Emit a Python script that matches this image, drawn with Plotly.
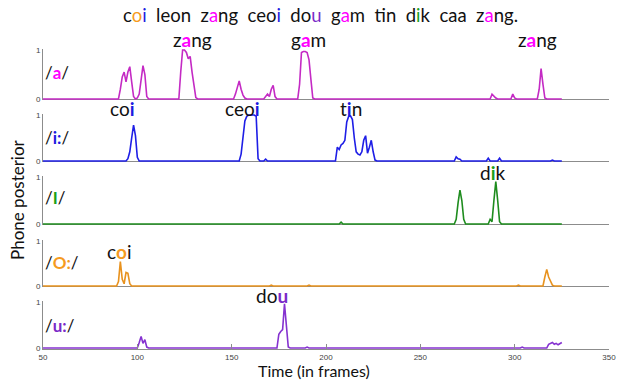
import plotly.graph_objects as go

# ---------------- data (frame, posterior) breakpoints ----------------
a_points = [(50, 0), (90, 0), (91, 0.2), (92, 0.45), (93, 0.55), (94, 0.35), (95, 0.55), (96, 0.66),
            (97, 0.35), (98, 0.05), (99, 0), (100, 0.02), (101, 0.1), (102, 0.35), (103, 0.68), (104, 0.5),
            (105, 0.05), (106, 0), (122, 0), (123, 0.55), (124, 1.0), (125, 1.0), (126, 0.95), (127, 0.82),
            (128, 0.87), (129, 0.55), (130, 0.25), (131, 0.03), (132, 0), (151, 0), (152, 0.1), (153, 0.25),
            (154, 0.37), (155, 0.2), (156, 0.08), (157, 0.02), (158, 0), (167, 0), (168, 0.05), (169, 0.1),
            (170, 0.05), (171, 0.2), (172, 0.28), (173, 0.05), (174, 0), (185, 0), (186, 0.3), (187, 0.95),
            (188, 0.97), (189, 0.97), (190, 0.95), (191, 0.8), (192, 0.4), (193, 0.02), (194, 0), (287, 0),
            (288, 0.1), (289, 0.05), (290, 0.02), (291, 0), (298, 0), (299, 0.1), (300, 0.02), (301, 0),
            (312, 0), (313, 0.2), (314, 0.62), (315, 0.3), (316, 0.02), (317, 0), (325, 0)]

i_points = [(50, 0), (94, 0), (95, 0.05), (96, 0.2), (97, 0.5), (98, 0.78), (99, 0.55), (100, 0.08),
            (101, 0), (154, 0), (155, 0.15), (156, 0.55), (157, 0.87), (158, 0.97), (159, 1.0), (160, 1.0),
            (161, 1.0), (162, 1.0), (163, 0.97), (164, 0.05), (165, 0), (167, 0), (168, 0.04), (169, 0),
            (205, 0), (206, 0.3), (207, 0.25), (208, 0.35), (209, 0.38), (210, 0.45), (211, 0.85),
            (212, 0.97), (213, 0.98), (214, 0.9), (215, 0.5), (216, 0.2), (217, 0.15), (218, 0.13),
            (219, 0.2), (220, 0.45), (221, 0.55), (222, 0.17), (223, 0.3), (224, 0.45), (225, 0.2),
            (226, 0.02), (227, 0), (268, 0), (269, 0.09), (270, 0.05), (271, 0.04), (272, 0), (285, 0),
            (286, 0.06), (287, 0), (291, 0), (292, 0.06), (293, 0), (319, 0), (320, 0.02), (321, 0), (325, 0)]

I_points = [(50, 0), (207, 0), (208, 0.04), (209, 0), (268, 0), (269, 0.1), (270, 0.45), (271, 0.72),
            (272, 0.5), (273, 0.1), (274, 0), (286, 0), (287, 0.1), (288, 0.05), (289, 0.5), (290, 0.9),
            (291, 0.5), (292, 0.05), (293, 0), (325, 0)]

O_points = [(50, 0), (89, 0), (90, 0.1), (91, 0.54), (92, 0.15), (93, 0.05), (94, 0.3), (95, 0.28),
            (96, 0.05), (97, 0), (170, 0), (171, 0.02), (172, 0), (190, 0), (191, 0.02), (192, 0),
            (301, 0), (302, 0.02), (303, 0), (315, 0), (316, 0.2), (317, 0.37), (318, 0.2), (319, 0.1),
            (320, 0.02), (321, 0), (325, 0)]

u_points = [(50, 0), (100, 0), (101, 0.12), (102, 0.25), (103, 0.1), (104, 0.18), (105, 0.02), (106, 0),
            (174, 0), (175, 0.3), (176, 0.36), (177, 0.4), (178, 0.96), (179, 0.5), (180, 0.02), (181, 0),
            (189, 0), (190, 0.02), (191, 0), (303, 0), (304, 0.02), (305, 0), (317, 0), (318, 0.08),
            (319, 0.1), (320, 0.12), (321, 0.08), (322, 0.1), (323, 0.07), (324, 0.1), (325, 0.12)]

x_ticks = [50, 100, 150, 200, 250, 300, 350]
y_ticks = [0, 1]

# ---------------- styling ----------------
W, H = 625, 385
L, R = 43, 16
FONT = "Lato"
GRAY = "#8c8c8c"
line_colors = ["#c42ac4", "#1e1ee6", "#1e8c1e", "#e8921e", "#8532d0"]
text_colors = {"a": "#ff00ff", "i": "#1c1ce0", "I": "#1aa01a", "O": "#f59b1f", "u": "#7a2ac8"}
series = [a_points, i_points, I_points, O_points, u_points]

# pixel rows of y=0 and y=1 for each panel
rows_px = [(99, 50), (161, 115), (224, 177), (286, 241), (348, 302)]
YR = [-0.02, 1.02]

fig = go.Figure()
layout = dict(width=W, height=H, margin=dict(l=L, r=R, t=0, b=0, pad=0, autoexpand=False),
              paper_bgcolor="white", plot_bgcolor="white", showlegend=False,
              font=dict(family=FONT, color="#111"))

for k, (pts, col, (p0, p1)) in enumerate(zip(series, line_colors, rows_px)):
    n = "" if k == 0 else str(k + 1)
    xs = [p[0] for p in pts]
    ys = [p[1] for p in pts]
    fig.add_trace(go.Scatter(x=xs, y=ys, mode="lines", line=dict(color=col, width=1.6),
                             xaxis="x" + n, yaxis="y" + n, hoverinfo="skip"))
    unit = p0 - p1
    bot = p0 - YR[0] * unit
    top = p1 - (YR[1] - 1) * unit
    last = (k == 4)
    xa = dict(domain=[0, 1], anchor="y" + n, range=[50, 350], automargin=False,
              showgrid=False, zeroline=False,
              showline=last, linecolor=GRAY, linewidth=1)
    if last:
        xa.update(ticks="inside", ticklen=5, tickcolor=GRAY, tickvals=x_ticks,
                  showticklabels=True, tickfont=dict(size=8, color="#444", family="Liberation Sans"))
    else:
        xa.update(ticks="", showticklabels=False)
    layout["xaxis" + n] = xa
    layout["yaxis" + n] = dict(domain=[(H - bot) / H, (H - top) / H], anchor="x" + n, range=YR,
                               automargin=False,
                               showgrid=False, zeroline=True, zerolinecolor=GRAY, zerolinewidth=1,
                               showline=True, linecolor=GRAY, linewidth=1,
                               ticks="inside", ticklen=4, tickcolor=GRAY, tickvals=y_ticks,
                               tickfont=dict(size=8, color="#444", family="Liberation Sans"))


def c(ch, key, bold=True):
    s = "<span style='color:%s'>%s</span>" % (text_colors[key], ch)
    return "<b>%s</b>" % s if bold else s


def ypaper(py):
    return (H - py) / H


def xpaper(px):
    return (px - L) / (W - L - R)


ann = []
# title sentence
title = ("c" + c("o", "O", False) + c("i", "i", False) + "  leon  z" + c("a", "a", False) + "ng  ceo"
         + c("i", "i", False) + "  do" + c("u", "u", False) + "  g" + c("a", "a", False) + "m  t"
         + c("i", "i", False) + "n  d" + c("i", "I", False) + "k  caa  z" + c("a", "a", False) + "ng.")
ann.append(dict(text=title, x=xpaper(320), y=ypaper(15), xref="paper", yref="paper",
                showarrow=False, font=dict(size=18.5, color="#111")))

# phone labels
labels = ["/" + c("a", "a") + "/", "/" + c("i:", "i") + "/", "/" + c("I", "I") + "/",
          "/" + c("O:", "O") + "/", "/" + c("u:", "u") + "/"]
label_py = [73, 137, 198, 262, 325]
for t, py in zip(labels, label_py):
    ann.append(dict(text=t, x=xpaper(43), y=ypaper(py), xref="paper", yref="paper", xanchor="left",
                    showarrow=False, font=dict(size=17, color="#111")))

# word annotations (frame-centre, pixel-y)
words = [("z" + c("a", "a") + "ng", 129, 39), ("g" + c("a", "a") + "m", 190.5, 39),
         ("z" + c("a", "a") + "ng", 312, 39), ("co" + c("i", "i"), 92, 108),
         ("ceo" + c("i", "i"), 155.5, 108), ("t" + c("i", "i") + "n", 213.5, 108),
         ("d" + c("i", "I") + "k", 288.5, 172), ("c" + c("o", "O") + "i", 90.6, 251),
         ("do" + c("u", "u"), 171.4, 295)]
for t, fx, py in words:
    ann.append(dict(text=t, x=fx, y=ypaper(py), xref="x", yref="paper",
                    showarrow=False, font=dict(size=19, color="#111")))

# axis titles
ann.append(dict(text="Time (in frames)", x=xpaper(314), y=ypaper(370), xref="paper", yref="paper",
                showarrow=False, font=dict(size=16, color="#111")))
ann.append(dict(text="Phone posterior", x=xpaper(18), y=ypaper(200), xref="paper", yref="paper",
                showarrow=False, textangle=-90, font=dict(size=17, color="#111")))

for a in ann:
    a["yanchor"] = "middle"
    a.setdefault("xanchor", "center")

layout["annotations"] = ann
fig.update_layout(**layout)
fig.write_html("out.html", config={"displayModeBar": False},
               post_script="document.body.style.margin='0';document.body.style.overflow='hidden';")
